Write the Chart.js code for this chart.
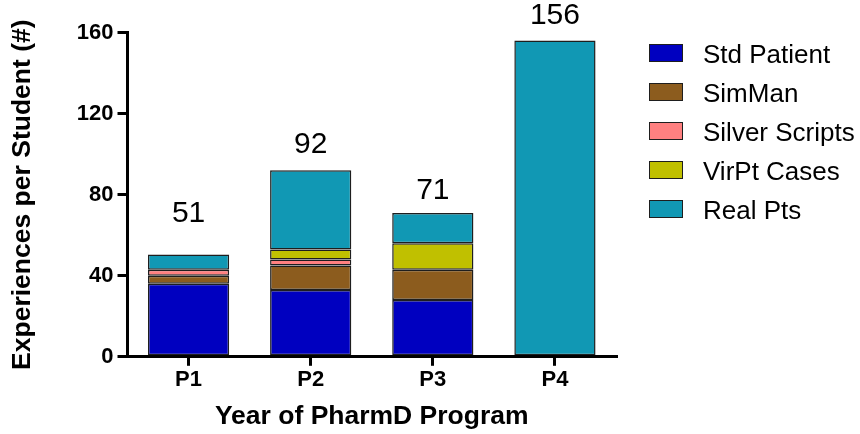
<!DOCTYPE html>
<html>
<head>
<meta charset="utf-8">
<script src="https://cdn.jsdelivr.net/npm/chart.js@4/dist/chart.umd.min.js"></script>
<style>
  body { margin: 0; background: #fff; }
  #wrap { width: 860px; height: 434px; position: relative; }
  #legend { position: absolute; left: 649px; top: 44px; margin: 0; padding: 0; list-style: none;
            font-family: 'Liberation Sans', Arial, sans-serif; font-size: 26px; color: #000; }
  #legend li { height: 39px; position: relative; white-space: nowrap; }
  #legend .box { position: absolute; left: 0; top: 0; width: 32px; height: 16px; border: 1.5px solid #1e1e1e; }
  #legend .txt { position: absolute; left: 54px; top: 9.5px; line-height: 0; }
</style>
</head>
<body>
<div id="wrap">
  <canvas id="expChart"></canvas>
  <ul id="legend"></ul>
</div>
<script>
const years = ['P1', 'P2', 'P3', 'P4'];
const stdPatient = [36, 33, 28, 0];
const simMan = [4, 12, 15, 0];
const silverScripts = [3, 3, 0, 0];
const virPtCases = [0, 5, 13, 0];
const realPts = [7.5, 39, 15, 156];
const yTicks = [0, 40, 80, 120, 160];
// totals printed over the bars, and the height (in data units) where each sits
const totalLabels = ['51', '92', '71', '156'];
const totalLabelLevels = [70.6, 104.6, 82.1, 168.5];

const FONT = "'Liberation Sans', Arial, sans-serif";

function makeSet(label, data, color) {
    return {
        label: label,
        data: data,
        backgroundColor: color,
        borderColor: '#1e1e1e',
        borderWidth: 1.5,
        borderSkipped: false,
        categoryPercentage: 1,
        barPercentage: 0.665
    };
}

//draws the totals above each bar
const totalsPlugin = {
    id: 'totals',
    afterDraw(chart) {
        const ctx = chart.ctx;
        const x = chart.scales.x;
        const y = chart.scales.y;
        ctx.save();
        ctx.font = '30px ' + FONT;
        ctx.fillStyle = '#000';
        ctx.textAlign = 'center';
        ctx.textBaseline = 'middle';
        totalLabels.forEach((txt, i) => {
            ctx.fillText(txt, x.getPixelForValue(i), y.getPixelForValue(totalLabelLevels[i]));
        });
        ctx.restore();
    }
};

//legend list built from the chart datasets
function buildLegend(chart) {
    const list = document.getElementById('legend');
    chart.data.datasets.forEach(ds => {
        const li = document.createElement('li');
        const box = document.createElement('span');
        box.className = 'box';
        box.style.background = ds.backgroundColor;
        const txt = document.createElement('span');
        txt.className = 'txt';
        txt.textContent = ds.label;
        li.appendChild(box);
        li.appendChild(txt);
        list.appendChild(li);
    });
}

const ctx = document.getElementById('expChart').getContext('2d');
const chart = new Chart(ctx, {
    type: 'bar',
    data: {
        labels: years,
        datasets: [
            makeSet('Std Patient', stdPatient, '#0000c0'),
            makeSet('SimMan', simMan, '#8c5c1e'),
            makeSet('Silver Scripts', silverScripts, '#ff8080'),
            makeSet('VirPt Cases', virPtCases, '#c0c000'),
            makeSet('Real Pts', realPts, '#1198b4')
        ]
    },
    options: {
        responsive: true,
        maintainAspectRatio: false,
        animation: false,
        layout: { padding: { top: 32.5, left: 3, right: 244, bottom: 1 } },
        plugins: {
            tooltip: { enabled: false },
            legend: { display: false }
        },
        scales: {
            x: {
                stacked: true,
                grid: { display: true, drawOnChartArea: false, offset: false, tickLength: 9, lineWidth: 3, color: '#000' },
                border: { display: true, width: 3, color: '#000' },
                ticks: { color: '#000', padding: 1, font: { family: FONT, size: 22, weight: 'bold' } },
                title: {
                    display: true,
                    text: 'Year of PharmD Program',
                    color: '#000',
                    padding: { top: 7, bottom: 0 },
                    font: { family: FONT, size: 26.5, weight: 'bold' }
                }
            },
            y: {
                stacked: true,
                min: 0,
                max: 160,
                afterBuildTicks: axis => { axis.ticks = yTicks.map(v => ({ value: v })); },
                grid: { display: true, drawOnChartArea: false, tickLength: 10, lineWidth: 3, color: '#000' },
                border: { display: true, width: 3, color: '#000' },
                ticks: { color: '#000', padding: 4, font: { family: FONT, size: 22, weight: 'bold' } },
                title: {
                    display: true,
                    text: 'Experiences per Student (#)',
                    color: '#000',
                    padding: { top: 4, bottom: 34 },
                    font: { family: FONT, size: 26.5, weight: 'bold' }
                }
            }
        }
    },
    plugins: [totalsPlugin]
});
buildLegend(chart);
</script>
</body>
</html>
